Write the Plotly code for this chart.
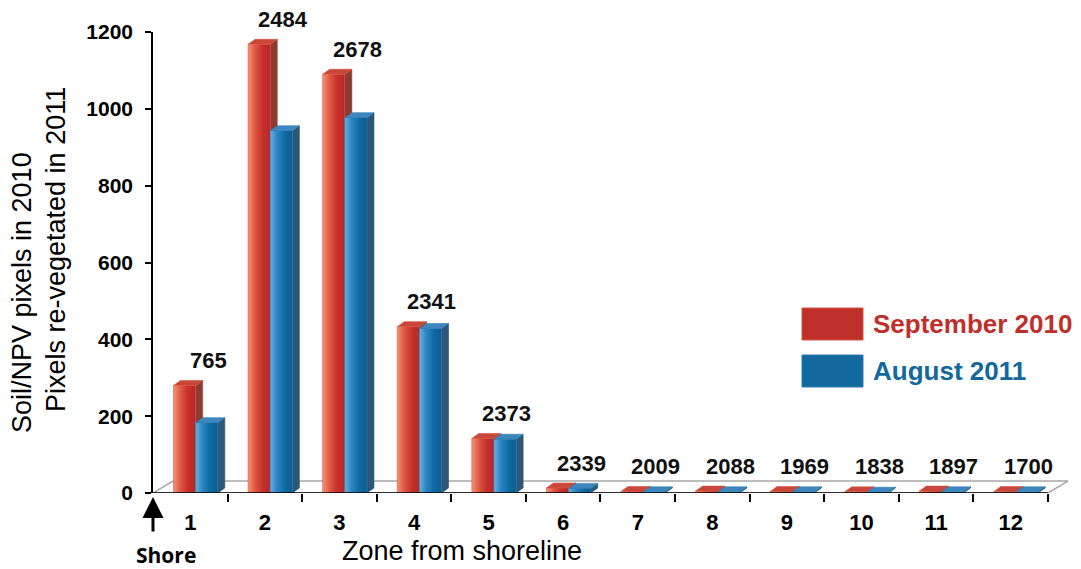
import plotly.graph_objects as go

# ---- data -------------------------------------------------------------
zones = list(range(1, 13))
zone_labels = [str(z) for z in zones]
sept_2010 = [280, 1168, 1090, 433, 142, 13, 4, 5, 4, 3, 5, 4]
aug_2011 = [183, 943, 977, 428, 140, 12, 3, 3, 3, 2, 3, 3]
zone_totals = [765, 2484, 2678, 2341, 2373, 2339, 2009, 2088, 1969, 1838, 1897, 1700]
y_ticks = [0, 200, 400, 600, 800, 1000, 1200]
series_names = ["September 2010", "August 2011"]

# ---- layout geometry ----------------------------------------------------
W, H = 1081, 569
L, R, T, B = 153, 6, 32, 76
PW, PH = W - L - R, H - T - B
X_RANGE = [0.5, 0.5 + PW / 74.58]
Y_RANGE = [0, 1200]

BAR_W = 0.297          # width of one bar front face (x units)
RED_OFF = -0.225       # left edge of the first bar relative to zone centre
DEPTH_X = 0.094        # bar depth, horizontal component
DEPTH_Y = 13.0         # bar depth, vertical component (y units)
FLOOR_X = 0.268        # floor depth, horizontal
FLOOR_Y = 31.0         # floor depth, vertical

FONT = "Liberation Sans, Arial, sans-serif"

STYLE = {
    "September 2010": dict(
        front=[[0, "#F29479"], [0.3, "#E05A44"], [0.65, "#C8302D"], [1, "#B5272A"]],
        top="#C9473A", side="#8E3B2F", edge="#D9543F", legend="#C0302B"),
    "August 2011": dict(
        front=[[0, "#6CB1E1"], [0.3, "#2C86C4"], [0.65, "#0F6AA3"], [1, "#0B5C8F"]],
        top="#3E86BD", side="#2C5878", edge="#2A7DB5", legend="#11699D"),
}


def px_x(p):
    return (p - L) / PW


def px_y(q):
    return (H - B - q) / PH


def box(x0, value, style):
    """Front, top and side faces of one 3-D bar."""
    x1 = x0 + BAR_W
    dx, dy = DEPTH_X, DEPTH_Y
    faces = []
    faces.append(go.Scatter(
        x=[x1, x1 + dx, x1 + dx, x1, x1], y=[0, dy, value + dy, value, 0],
        mode="lines", fill="toself", fillcolor=style["side"],
        line=dict(color=style["side"], width=0.6), hoverinfo="skip", showlegend=False))
    faces.append(go.Scatter(
        x=[x0, x1, x1 + dx, x0 + dx, x0], y=[value, value, value + dy, value + dy, value],
        mode="lines", fill="toself", fillcolor=style["top"],
        line=dict(color=style["edge"], width=0.6), hoverinfo="skip", showlegend=False))
    faces.append(go.Scatter(
        x=[x0, x1, x1, x0, x0], y=[0, 0, value, value, 0],
        mode="lines", fill="toself",
        fillgradient=dict(type="horizontal", colorscale=style["front"]),
        line=dict(color=style["edge"], width=0.6), hoverinfo="skip", showlegend=False))
    return faces


fig = go.Figure()

# floor of the 3-D plot
fig.add_trace(go.Scatter(
    x=[0.5, 12.5, 12.5 + FLOOR_X, 0.5 + FLOOR_X, 0.5],
    y=[0, 0, FLOOR_Y, FLOOR_Y, 0],
    mode="lines", fill="toself", fillcolor="white",
    line=dict(color="#A8A8A8", width=1.5), hoverinfo="skip", showlegend=False))

# bars, zone by zone so the second bar overlaps the first bar's side face
for i, z in enumerate(zones):
    for j, (name, vals) in enumerate(zip(series_names, [sept_2010, aug_2011])):
        x0 = z + RED_OFF + j * BAR_W
        for face in box(x0, vals[i], STYLE[name]):
            fig.add_trace(face)

# front edge of the floor (x axis line)
fig.add_trace(go.Scatter(
    x=[0.5, 12.5], y=[0, 0], mode="lines",
    line=dict(color="black", width=1.6), hoverinfo="skip", showlegend=False))

annotations = []

# zone totals above each pair of bars
for z, s, a, tot in zip(zones, sept_2010, aug_2011, zone_totals):
    annotations.append(dict(
        x=z + 0.24, y=max(s, a), xref="x", yref="y", text=str(tot),
        showarrow=False, yanchor="middle", yshift=25,
        font=dict(family=FONT, size=22, color="#111111", weight="bold")))

# y axis title (two lines)
for text, xc, yc in [("Soil/NPV pixels in 2010", 22, 293),
                     ("Pixels re-vegetated in 2011", 56, 250)]:
    annotations.append(dict(
        x=px_x(xc), y=px_y(yc), xref="paper", yref="paper", text=text,
        textangle=-90, showarrow=False, xanchor="center", yanchor="middle",
        font=dict(family=FONT, size=27, color="black")))

# x axis title
annotations.append(dict(
    x=px_x(462), y=px_y(551), xref="paper", yref="paper", text="Zone from shoreline",
    showarrow=False, xanchor="center", yanchor="middle",
    font=dict(family=FONT, size=27, color="black")))

# shore arrow and label
annotations.append(dict(
    x=0.5, y=px_y(497), xref="x", yref="paper", text="", showarrow=True,
    ax=0, ay=36, arrowhead=2, arrowsize=1.4, arrowwidth=3, arrowcolor="black",
    standoff=0))
annotations.append(dict(
    x=px_x(166), y=px_y(555), xref="paper", yref="paper", text="Shore",
    showarrow=False, xanchor="center", yanchor="middle",
    font=dict(family="Open Sans, sans-serif", size=21, color="black", weight="bold")))

# legend
shapes = []
for name, (ytop, ybot) in zip(series_names, [(308, 340), (355, 387)]):
    col = STYLE[name]["legend"]
    shapes.append(dict(
        type="rect", xref="paper", yref="paper",
        x0=px_x(802), x1=px_x(863), y0=px_y(ybot), y1=px_y(ytop),
        fillcolor=col, line=dict(color=STYLE[name]["edge"], width=1)))
    annotations.append(dict(
        x=px_x(871), y=px_y((ytop + ybot) / 2), xref="paper", yref="paper",
        text=name, showarrow=False, xanchor="left", yanchor="middle",
        font=dict(family=FONT, size=26, color=col, weight="bold")))

fig.update_layout(
    width=W, height=H,
    margin=dict(l=L, r=R, t=T, b=B, pad=0),
    paper_bgcolor="white", plot_bgcolor="white",
    showlegend=False,
    annotations=annotations, shapes=shapes,
    xaxis=dict(
        range=X_RANGE, showgrid=False, zeroline=False, showline=False,
        tickmode="array", tickvals=zones, ticktext=zone_labels, ticks="",
        ticklabelstandoff=14,
        tickfont=dict(family=FONT, size=22, color="black", weight="bold"),
        minor=dict(tickmode="array", tickvals=[z + 0.5 for z in zones],
                   ticks="outside", ticklen=8, tickwidth=1.6, tickcolor="black",
                   showgrid=False),
    ),
    yaxis=dict(
        range=Y_RANGE, showgrid=False, zeroline=False,
        showline=True, linecolor="black", linewidth=1.6,
        tickmode="array", tickvals=y_ticks, ticks="outside", ticklen=6,
        tickwidth=1.6, tickcolor="black", ticklabelstandoff=8,
        tickfont=dict(family=FONT, size=21, color="black", weight="bold"),
    ),
)

fig.write_html("out.html")
